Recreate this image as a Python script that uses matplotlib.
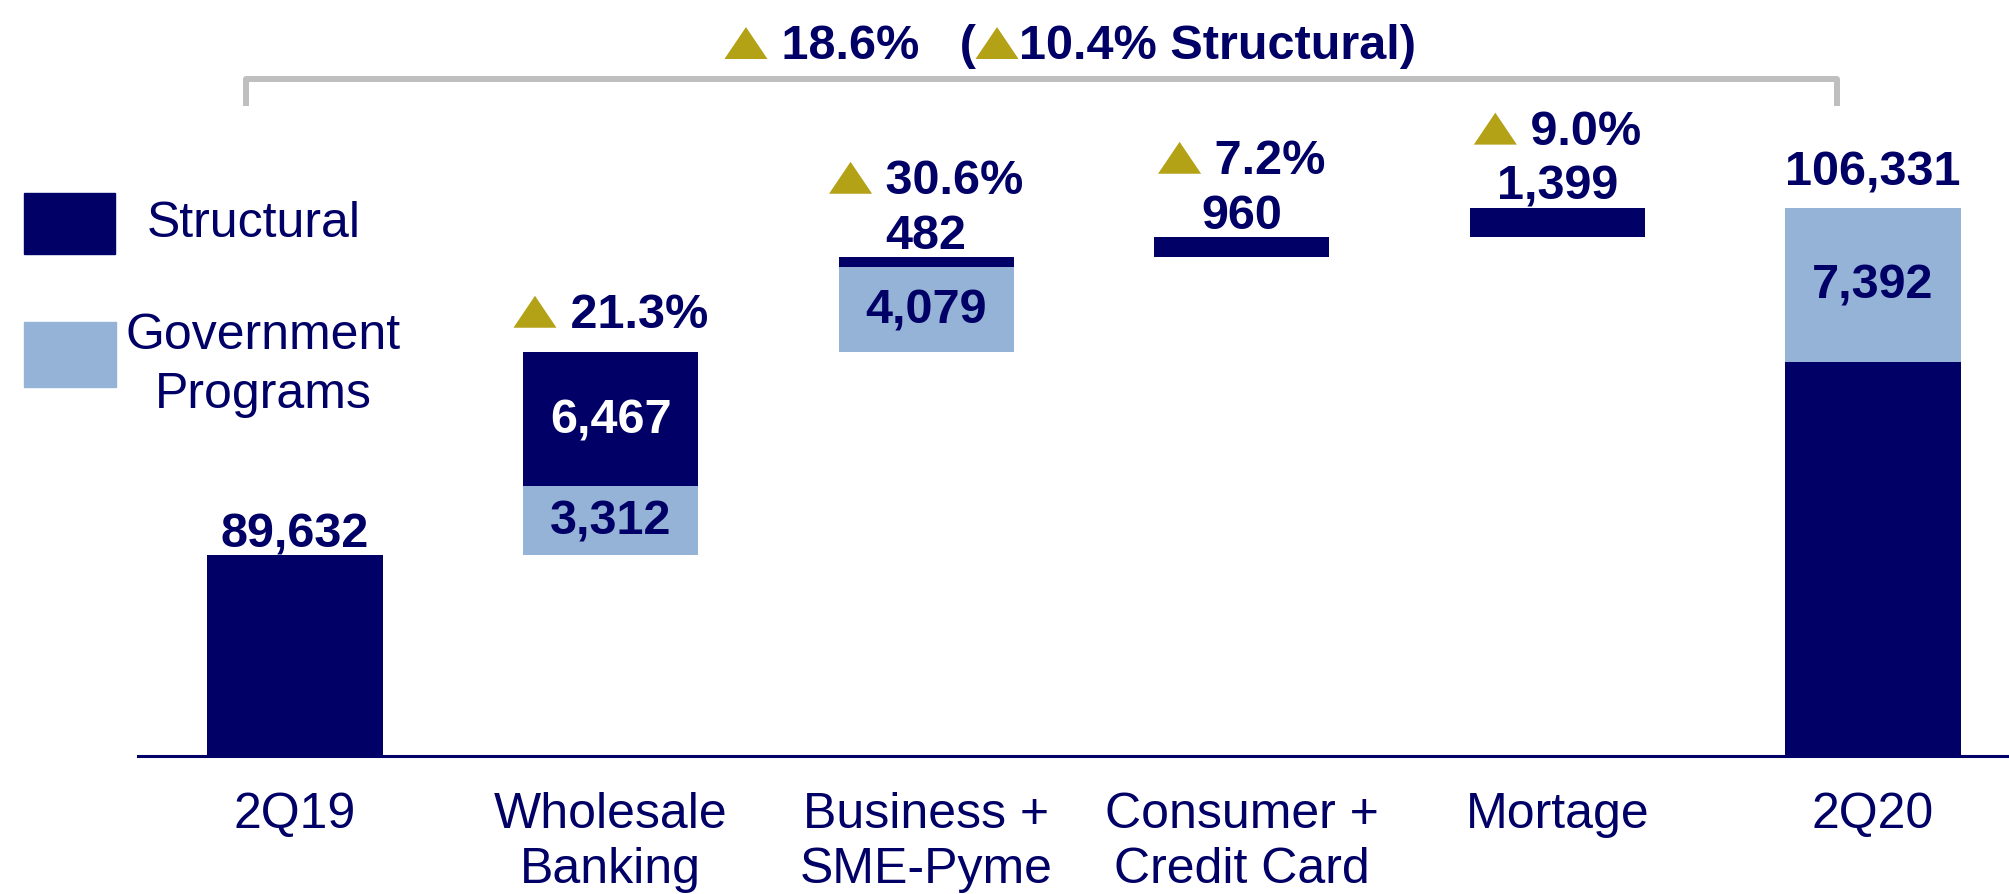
import matplotlib
matplotlib.use('Agg')
import matplotlib.pyplot as plt
from matplotlib.lines import Line2D
from matplotlib.patches import Rectangle, Polygon
from matplotlib.offsetbox import TextArea, DrawingArea, HPacker, AnnotationBbox

# chart data
categories = ['2Q19', 'Wholesale\nBanking', 'Business +\nSME-Pyme',
              'Consumer +\nCredit Card', 'Mortage', '2Q20']
start_total = 89632
step_government = [3312, 4079, 0, 0]
step_structural = [6467, 482, 960, 1399]
step_growth = ['21.3%', '30.6%', '7.2%', '9.0%']
end_structural = 98939
end_government = 7392
total_growth = '18.6%'
structural_growth = '10.4%'

NAVY = '#000066'
LIGHT = '#95B3D7'
GOLD = '#B3A116'
GREY = '#BFBFBF'

plt.rcParams['font.family'] = ['Liberation Sans', 'DejaVu Sans']

W, H = 2009, 894
fig = plt.figure(figsize=(W / 100, H / 100), dpi=100)
ax = fig.add_axes([138 / W, 138 / H, 1 - 138 / W, 756 / H])

bw = 0.555
num_style = dict(fontsize=35, fontweight='bold')


def inside_label(x, bottom, value, color):
    ax.annotate(f'{value:,}', xy=(x, bottom + value / 2), xytext=(0, -14),
                textcoords='offset pixels', ha='center', va='baseline',
                color=color, **num_style)


def top_label(x, top, value, dy=8):
    ax.annotate(f'{value:,}', xy=(x, top), xytext=(0, dy),
                textcoords='offset pixels', ha='center', va='baseline',
                color=NAVY, **num_style)


def triangle():
    da = DrawingArea(31, 23, 0, 0)
    da.add_artist(Polygon([(0, 0), (31, 0), (15.5, 23)], closed=True,
                          facecolor=GOLD, edgecolor='none'))
    return da


def growth_box(parts):
    kids = []
    for p in parts:
        if p == '^':
            kids.append(triangle())
        else:
            kids.append(TextArea(p, textprops=dict(color=NAVY, **num_style)))
    return HPacker(children=kids, align='baseline', pad=0, sep=0)


# starting total
ax.bar(0, start_total, width=bw, color=NAVY)
top_label(0, start_total, start_total)

# waterfall steps
level = start_total
for i, (g, s, pct) in enumerate(zip(step_government, step_structural, step_growth), start=1):
    if g:
        ax.bar(i, g, bottom=level, width=bw, color=LIGHT)
        inside_label(i, level, g, NAVY)
        level += g
    ax.bar(i, s, bottom=level, width=bw, color=NAVY)
    if s > 2000:
        inside_label(i, level, s, 'white')
        level += s
        dy = 14
    else:
        level += s
        top_label(i, level, s)
        dy = 53
    ab = AnnotationBbox(growth_box(['^', ' ' + pct]), (i, level), xybox=(0, dy),
                        xycoords='data', boxcoords='offset pixels',
                        box_alignment=(0.5, 0), frameon=False, pad=0)
    ax.add_artist(ab)

# ending total
n = len(categories) - 1
ax.bar(n, end_structural, width=bw, color=NAVY)
ax.bar(n, end_government, bottom=end_structural, width=bw, color=LIGHT)
inside_label(n, 0, end_structural, 'white')
inside_label(n, end_structural, end_government, NAVY)
top_label(n, end_structural + end_government, end_structural + end_government, dy=22)

ax.set_xlim(-0.4975, 5.431)
ax.set_ylim(80000, 116300)
ax.set_xticks(range(len(categories)))
ax.set_xticklabels(categories, fontsize=36, color=NAVY, linespacing=1.26)
ax.tick_params(axis='x', length=0, pad=26)
ax.set_yticks([])
for side in ['top', 'right', 'left']:
    ax.spines[side].set_visible(False)
ax.spines['bottom'].set_color(NAVY)
ax.spines['bottom'].set_linewidth(2.2)

# bracket and overall growth
bx = [246, 246, 1837, 1837]
by = [103, 79, 79, 103]
fig.add_artist(Line2D([v / W for v in bx], [1 - v / H for v in by], color=GREY,
                      lw=4.3, solid_joinstyle='round', transform=fig.transFigure))
title = growth_box(['^', ' ' + total_growth + '   (', '^', structural_growth + ' Structural)'])
fig.add_artist(AnnotationBbox(title, (1070, H - 69), xycoords='figure pixels',
                              box_alignment=(0.5, 0), frameon=False, pad=0))

# legend
fig.add_artist(Rectangle((24 / W, 1 - 254 / H), 91 / W, 61 / H, color=NAVY,
                         transform=fig.transFigure))
fig.add_artist(Rectangle((24 / W, 1 - 387 / H), 92 / W, 65 / H, color=LIGHT,
                         transform=fig.transFigure))
fig.text(147 / W, 1 - 237 / H, 'Structural', fontsize=36, color=NAVY,
         ha='left', va='baseline')
fig.text(263 / W, 1 - 408 / H, 'Government\nPrograms', fontsize=36, color=NAVY,
         ha='center', va='baseline', multialignment='center', linespacing=1.35)

fig.savefig('out.png', dpi=100)
